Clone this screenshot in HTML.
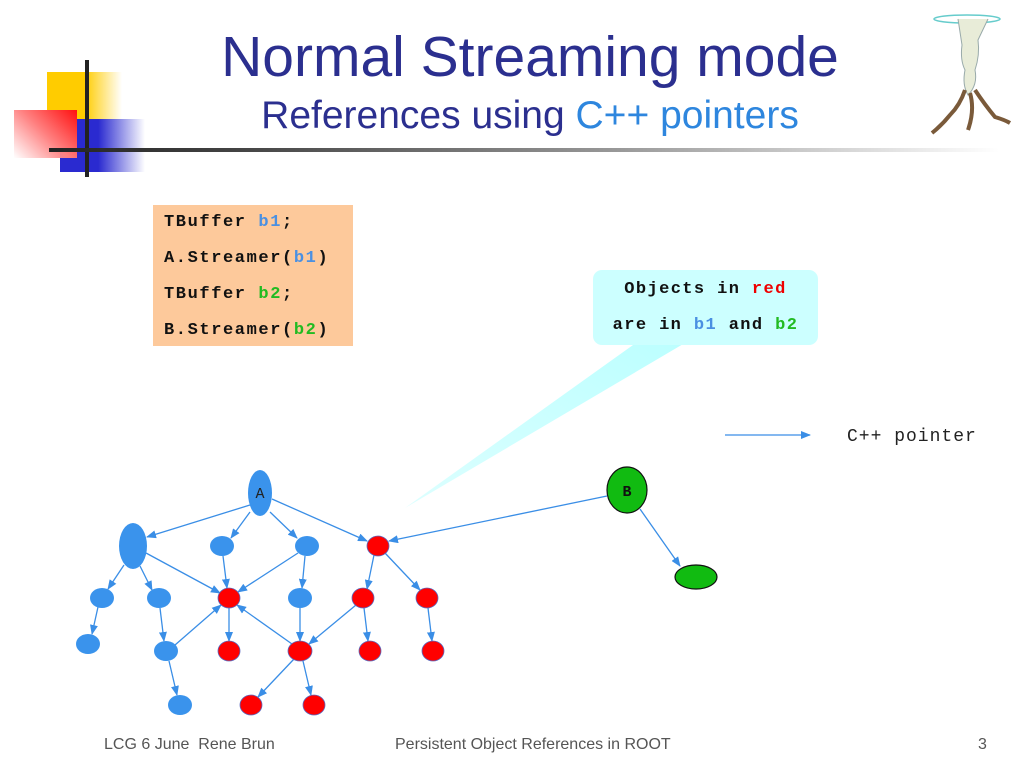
<!DOCTYPE html>
<html><head><meta charset="utf-8"><style>
html,body{margin:0;padding:0;background:#fff;}
body{width:1024px;height:768px;position:relative;overflow:hidden;font-family:"Liberation Sans",sans-serif;}
.abs{position:absolute;}
.mono{font-family:"Liberation Mono",monospace;font-weight:bold;}
</style></head><body>
<!-- logo -->
<div class="abs" style="left:47px;top:72px;width:75px;height:47px;background:linear-gradient(90deg,#ffcc00 0%,#ffcc00 50%,rgba(255,204,0,0) 100%);"></div>
<div class="abs" style="left:60px;top:119px;width:85px;height:53px;background:linear-gradient(90deg,#2a2ad0 0%,#2a2ad0 45%,rgba(42,42,208,0) 100%);"></div>
<div class="abs" style="left:14px;top:110px;width:63px;height:48px;background:linear-gradient(225deg,#ff1010 0%,#ff8080 50%,rgba(255,255,255,0.6) 100%);"></div>
<div class="abs" style="left:85px;top:60px;width:4px;height:117px;background:#222;"></div>
<div class="abs" style="left:49px;top:148px;width:950px;height:4px;background:linear-gradient(90deg,#222 0%,#444 20%,#999 60%,rgba(255,255,255,0) 100%);"></div>
<!-- titles -->
<div class="abs" style="left:130px;top:24px;width:800px;text-align:center;font-size:57px;color:#2b2f8f;">Normal Streaming mode</div>
<div class="abs" style="left:130px;top:94px;width:800px;text-align:center;font-size:39px;color:#2b2f8f;">References using <span style="color:#2e86de;">C++ pointers</span></div>
<!-- figure top-right -->
<svg class="abs" style="left:920px;top:5px" width="100" height="135">
<ellipse cx="47" cy="14" rx="33" ry="4" fill="none" stroke="#66cccc" stroke-width="1.5"/>
<path d="M38 14 L42 40 Q40 55 45 65 Q42 80 48 90 Q58 80 55 65 Q60 50 58 35 L68 14" fill="#e8ecd8" stroke="#9aa" stroke-width="1"/>
<path d="M45 85 Q40 100 30 110 Q22 120 12 128 M50 88 Q55 105 48 125 M55 85 Q65 100 75 112 Q85 115 90 118" fill="none" stroke="#7a5a3a" stroke-width="4"/>
</svg>
<!-- code box -->
<div class="abs mono" style="left:153px;top:205px;width:200px;height:141px;background:#fdc99b;font-size:17px;letter-spacing:1.6px;line-height:36px;padding:0 0 0 11px;box-sizing:border-box;color:#111;">
TBuffer <span style="color:#4a90e2">b1</span>;<br>A.Streamer(<span style="color:#4a90e2">b1</span>)<br>TBuffer <span style="color:#22bb22">b2</span>;<br>B.Streamer(<span style="color:#22bb22">b2</span>)
</div>
<!-- callout -->
<svg class="abs" style="left:0;top:0" width="1024" height="768">
<defs>
<linearGradient id="wg" x1="1" y1="0" x2="0" y2="1"><stop offset="0" stop-color="#bff" /><stop offset="1" stop-color="#dff"/></linearGradient>
<marker id="ar" markerWidth="10" markerHeight="8" refX="9" refY="4" orient="auto" markerUnits="userSpaceOnUse"><path d="M0,0 L10,4 L0,8 Z" fill="#3a8ee6"/></marker>
</defs>
<path d="M640 340 L690 340 L405 508 Z" fill="url(#wg)"/>
<rect x="593" y="270" width="225" height="75" rx="9" fill="#ccffff"/>
<g stroke="#3a8ee6" stroke-width="1.3" marker-end="url(#ar)">
<line x1="725" y1="435" x2="810" y2="435"/>
<line x1="250" y1="505" x2="147" y2="537"/>
<line x1="250" y1="512" x2="231" y2="538"/>
<line x1="270" y1="512" x2="297" y2="538"/>
<line x1="272" y1="499" x2="367" y2="541"/>
<line x1="124" y1="565" x2="108" y2="589"/>
<line x1="140" y1="566" x2="152" y2="590"/>
<line x1="146" y1="553" x2="220" y2="593"/>
<line x1="223" y1="556" x2="227" y2="588"/>
<line x1="298" y1="553" x2="238" y2="592"/>
<line x1="305" y1="556" x2="302" y2="588"/>
<line x1="374" y1="555" x2="367" y2="589"/>
<line x1="385" y1="553" x2="420" y2="590"/>
<line x1="98" y1="607" x2="92" y2="634"/>
<line x1="160" y1="608" x2="164" y2="641"/>
<line x1="175" y1="645" x2="221" y2="605"/>
<line x1="229" y1="608" x2="229" y2="641"/>
<line x1="300" y1="608" x2="300" y2="641"/>
<line x1="356" y1="605" x2="309" y2="644"/>
<line x1="292" y1="644" x2="237" y2="605"/>
<line x1="364" y1="608" x2="368" y2="641"/>
<line x1="428" y1="608" x2="432" y2="641"/>
<line x1="169" y1="661" x2="177" y2="695"/>
<line x1="294" y1="659" x2="258" y2="697"/>
<line x1="303" y1="661" x2="311" y2="695"/>
<line x1="607" y1="496" x2="389" y2="541"/>
<line x1="640" y1="509" x2="680" y2="566"/>
</g>
<g fill="#3a93ec">
<ellipse cx="260" cy="493" rx="12" ry="23"/>
<ellipse cx="133" cy="546" rx="14" ry="23"/>
<ellipse cx="222" cy="546" rx="12" ry="10"/>
<ellipse cx="307" cy="546" rx="12" ry="10"/>
<ellipse cx="102" cy="598" rx="12" ry="10"/>
<ellipse cx="159" cy="598" rx="12" ry="10"/>
<ellipse cx="300" cy="598" rx="12" ry="10"/>
<ellipse cx="88" cy="644" rx="12" ry="10"/>
<ellipse cx="166" cy="651" rx="12" ry="10"/>
<ellipse cx="180" cy="705" rx="12" ry="10"/>
</g>
<g fill="#ff0000" stroke="#5a6ac0" stroke-width="0.8">
<ellipse cx="378" cy="546" rx="11" ry="10"/>
<ellipse cx="229" cy="598" rx="11" ry="10"/>
<ellipse cx="363" cy="598" rx="11" ry="10"/>
<ellipse cx="427" cy="598" rx="11" ry="10"/>
<ellipse cx="229" cy="651" rx="11" ry="10"/>
<ellipse cx="300" cy="651" rx="12" ry="10"/>
<ellipse cx="370" cy="651" rx="11" ry="10"/>
<ellipse cx="433" cy="651" rx="11" ry="10"/>
<ellipse cx="251" cy="705" rx="11" ry="10"/>
<ellipse cx="314" cy="705" rx="11" ry="10"/>
</g>
<g fill="#11bb11" stroke="#111" stroke-width="1.2">
<ellipse cx="627" cy="490" rx="20" ry="23"/>
<ellipse cx="696" cy="577" rx="21" ry="12"/>
</g>
<text x="260" y="498" text-anchor="middle" font-family="Liberation Mono,monospace" font-size="15" fill="#222">A</text>
<text x="627" y="496" text-anchor="middle" font-family="Liberation Mono,monospace" font-weight="bold" font-size="15" fill="#111">B</text>
<text x="847" y="441" font-family="Liberation Mono,monospace" font-size="18" letter-spacing="1" fill="#222">C++ pointer</text>
</svg>
<div class="abs mono" style="left:593px;top:272px;width:225px;text-align:center;font-size:17px;letter-spacing:1.4px;line-height:36px;color:#111;">Objects in <span style="color:#e00">red</span><br>are in <span style="color:#4a90e2">b1</span> and <span style="color:#22bb22">b2</span></div>
<!-- footer -->
<div class="abs" style="left:104px;top:736px;font-size:16px;color:#555;">LCG 6 June&nbsp; Rene Brun</div>
<div class="abs" style="left:395px;top:736px;font-size:16px;color:#555;">Persistent Object References in ROOT</div>
<div class="abs" style="left:978px;top:736px;font-size:16px;color:#555;">3</div>
</body></html>
